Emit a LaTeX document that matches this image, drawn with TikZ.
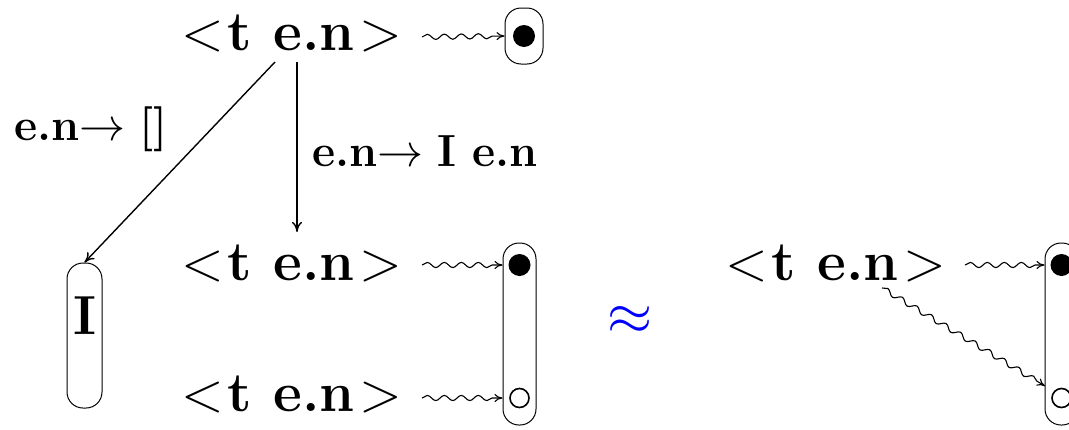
\documentclass[tikz,border=0pt]{standalone}
\usepackage{graphicx}
\usetikzlibrary{decorations.pathmorphing,arrows.meta}
\newcommand\bigless{{\mdseries <}\kern4pt}
\newcommand\biggreater{\kern5pt{\mdseries >}}
\newcommand\labarrow{\scalebox{4.6}{\normalsize$\rightarrow$}}
\tikzset{
  big/.style={font=\fontsize{56}{60}\selectfont, inner sep=0pt, anchor=base west},
  lab/.style={font=\fontsize{45}{50}\selectfont, inner sep=0pt, anchor=base west},
  conn/.style={line width=1.4pt, -{To[length=10pt,width=10pt]}},
  wave/.style={line width=1.1pt, -{To[length=8pt,width=8pt]}, decorate,
    decoration={snake, amplitude=2.6pt, segment length=17pt, post length=7pt}},
  rbox/.style={draw, line width=1pt, rounded corners=16pt, inner sep=0pt},
  fdot/.style={circle, fill, minimum size=22pt, inner sep=0pt},
  odot/.style={circle, draw, line width=1.6pt, minimum size=19pt, inner sep=0pt},
}
\begin{document}
\begin{tikzpicture}[x=1pt,y=-1pt]
\useasboundingbox (0,0) rectangle (1069,429);
% texts
\node[big] (t0) at (181,50) {\bigless\textbf{t e.n}\biggreater};
\node[big] (t1) at (181,280) {\bigless\textbf{t e.n}\biggreater};
\node[big] (t2) at (181,411) {\bigless\textbf{t e.n}\biggreater};
\node[big] (t3) at (725,280) {\bigless\textbf{t e.n}\biggreater};
\node[lab] (l1) at (14,140) {\textbf{e.n}\labarrow\ \textbf{[]}};
\node[lab] (l2) at (312,166) {\textbf{e.n}\labarrow\ \textbf{I e.n}};
\node[scale=5.8, text=blue, inner sep=0pt] (ap) at (630,320) {$\approx$};
% boxes
\node[rbox, minimum width=38pt, minimum height=56pt] (b0) at (524,36) {};
\node[fdot] (d0) at (b0.center) {};
\node[rbox, minimum width=35pt, minimum height=145pt] (lb) at (84.5,335.5) {};
\node[font=\fontsize{55}{60}\selectfont\bfseries, inner sep=0pt] (I) at (85,316) {I};
\node[rbox, minimum width=33pt, minimum height=182pt] (b1) at (519.5,334) {};
\node[fdot] (d1) at (519.5,265) {};
\node[odot] (o1) at (519.5,398) {};
\node[rbox, minimum width=33pt, minimum height=182pt] (b2) at (1061.5,334) {};
\node[fdot] (d2) at (1061.5,265) {};
\node[odot] (o2) at (1061.5,398) {};
% connector end points
\coordinate (s1) at (275,62);
\coordinate (s2) at (297,62);
\coordinate (e2) at (297,232);
\coordinate (w0) at (422,37);
\coordinate (w1) at (422,265);
\coordinate (w2) at (422,398);
\coordinate (w3) at (965,265);
\coordinate (w4) at (882,288);
\coordinate (e4) at (1045,386);
% connectors
\draw[conn] (s1) -- (lb.north);
\draw[conn] (s2) -- (e2);
\draw[wave] (w0) -- (d0.west -| b0.west);
\draw[wave] (w1) -- (d1.west -| b1.west);
\draw[wave] (w2) -- (o1.west -| b1.west);
\draw[wave] (w3) -- (d2.west -| b2.west);
\draw[wave] (w4) -- (e4);
\end{tikzpicture}
\end{document}
